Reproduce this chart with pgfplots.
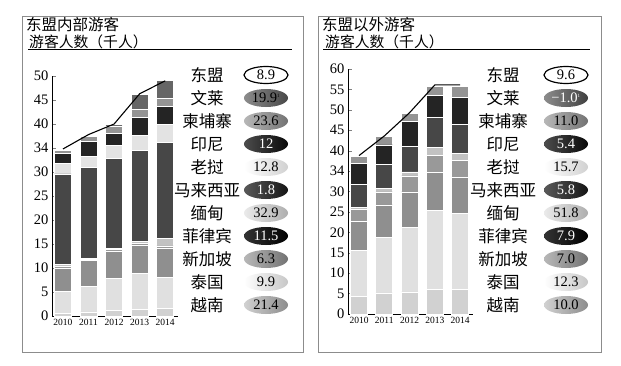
\documentclass[border=0pt]{standalone}
\usepackage{pgfplots}
\pgfplotsset{compat=1.18}
\usepackage{fontspec}
\setmainfont{Liberation Serif}
\newfontfamily\cjk{Noto Sans CJK SC}
\definecolor{cV}{gray}{0.82}
\definecolor{cT}{gray}{0.88}
\definecolor{cS}{gray}{0.56}
\definecolor{cP}{gray}{0.60}
\definecolor{cMy}{gray}{0.76}
\definecolor{cMa}{gray}{0.28}
\definecolor{cL}{gray}{0.89}
\definecolor{cI}{gray}{0.14}
\definecolor{cC}{gray}{0.58}
\definecolor{cB}{gray}{0.40}
\pgfplotsset{
  panel/.style={scale only axis, anchor=south west, ymin=0,
    axis x line*=bottom, axis y line*=left,
    axis line style={line width=0.9pt,-},
    xtick={0,...,4}, xticklabels={2010,2011,2012,2013,2014},
    xtick style={draw=none},
    tick align=inside, major tick length=4pt,
    /pgf/number format/assume math mode=true,
    xticklabel style={font=\fontsize{9.5}{10}\selectfont},
    yticklabel style={font=\fontsize{14.5}{15}\selectfont},
    ybar stacked, bar width=17pt,
    every axis plot/.append style={draw=white, line width=0.7pt},
  },
  lineax/.style={scale only axis, anchor=south west, ymin=0, axis lines=none, ticks=none},
}
\newcommand\badge[6]{%
  \shade[left color=#3, right color=#4] (#1,#2) ellipse (22 and 9);
  \node[text=#5, font=\fontsize{14.5}{15}\selectfont, inner sep=0] at (#1,#2) {#6};
}
\newcommand\cname[3]{\node[font=\cjk\fontsize{16.5}{17}\selectfont, inner sep=0] at (#1,#2) {#3};}
\begin{document}
\begin{tikzpicture}[x=1pt,y=1pt]
\path[use as bounding box, fill=white] (0,0) rectangle (621,365);
\draw[black!45, line width=1pt] (22,13) rectangle (303,348);
\draw[black!45, line width=1pt] (318,13) rectangle (601,348);
% titles
\node[anchor=west, inner sep=0] at (26,340) {\cjk\fontsize{15.5}{16}\selectfont 东盟内部游客};
\node[anchor=west, inner sep=0] at (29,323.3) {\cjk\fontsize{14.8}{15}\selectfont 游客人数（千人）};
\draw[line width=1pt] (28,315.5) -- (292,315.5);
\node[anchor=west, inner sep=0] at (322,340) {\cjk\fontsize{15.5}{16}\selectfont 东盟以外游客};
\node[anchor=west, inner sep=0] at (325,323.3) {\cjk\fontsize{14.8}{15}\selectfont 游客人数（千人）};
\draw[line width=1pt] (323,315.5) -- (590,315.5);

% left panel
\begin{axis}[panel, at={(52pt,49pt)}, width=126pt, height=240pt,
  xmin=-0.43, xmax=4.5, ymax=50,
  ytick={0,5,...,50}, yticklabels={0,5,10,15,20,25,30,34,40,45,50}]
\addplot[fill=cV] coordinates {(0,0.6)(1,0.85)(2,1.2)(3,1.3)(4,1.5)};
\addplot[fill=cT] coordinates {(0,4.5)(1,5.35)(2,6.6)(3,7.5)(4,6.6)};
\addplot[fill=cS] coordinates {(0,4.9)(1,5.4)(2,5.7)(3,6.0)(4,6.0)};
\addplot[fill=cP] coordinates {(0,0.4)(1,0.2)(2,0.3)(3,0.4)(4,0.5)};
\addplot[fill=cMy] coordinates {(0,0.4)(1,0.2)(2,0.3)(3,0.3)(4,1.6)};
\addplot[fill=cMa] coordinates {(0,18.8)(1,19.0)(2,18.7)(3,19.0)(4,19.9)};
\addplot[fill=cL] coordinates {(0,2.2)(1,2.3)(2,2.8)(3,3.2)(4,3.8)};
\addplot[fill=cI] coordinates {(0,2.1)(1,3.1)(2,2.5)(3,3.6)(4,3.7)};
\addplot[fill=cC] coordinates {(0,0.6)(1,1.1)(2,1.5)(3,1.8)(4,1.8)};
\addplot[fill=cB] coordinates {(0,0.2)(1,0.2)(2,0.3)(3,3.0)(4,3.6)};
\end{axis}
\begin{axis}[lineax, at={(52pt,49pt)}, width=126pt, height=240pt,
  xmin=-0.43, xmax=4.5, ymax=50]
\addplot[black, line width=1.1pt, mark=none] coordinates {(0,34.8)(1,37.8)(2,40.0)(3,46.3)(4,49.0)};
\end{axis}

% right panel
\begin{axis}[panel, at={(348pt,51pt)}, width=125pt, height=245pt,
  xmin=-0.436, xmax=4.51, ymax=60,
  ytick={0,5,...,60}, yticklabels={0,5,10,15,20,25,30,34,40,45,50,55,60}]
\addplot[fill=cV] coordinates {(0,4.4)(1,5.15)(2,5.4)(3,6.05)(4,6.05)};
\addplot[fill=cT] coordinates {(0,11.2)(1,13.55)(2,15.9)(3,19.25)(4,18.55)};
\addplot[fill=cS] coordinates {(0,7.0)(1,8.0)(2,8.6)(3,9.4)(4,8.8)};
\addplot[fill=cP] coordinates {(0,3.1)(1,3.2)(2,3.9)(3,4.2)(4,4.3)};
\addplot[fill=cMy] coordinates {(0,0.3)(1,0.8)(2,1.0)(3,1.9)(4,1.6)};
\addplot[fill=cMa] coordinates {(0,5.7)(1,5.9)(2,6.2)(3,7.3)(4,7.1)};
\addplot[fill=cI] coordinates {(0,5.2)(1,4.8)(2,6.1)(3,5.4)(4,6.6)};
\addplot[fill=cC] coordinates {(0,1.6)(1,2.0)(2,2.0)(3,2.3)(4,2.7)};
\end{axis}
\begin{axis}[lineax, at={(348pt,51pt)}, width=125pt, height=245pt,
  xmin=-0.436, xmax=4.51, ymax=60]
\addplot[black, line width=1.1pt, mark=none] coordinates {(0,38.8)(1,43.6)(2,49.3)(3,56.1)(4,56.1)};
\end{axis}

% left legend
\cname{207}{290}{东盟}
\cname{207}{267}{文莱}
\cname{207}{244}{柬埔寨}
\cname{207}{221}{印尼}
\cname{207}{198}{老挝}
\cname{207}{175}{马来西亚}
\cname{207}{152}{缅甸}
\cname{207}{129}{菲律宾}
\cname{207}{106}{新加坡}
\cname{207}{83}{泰国}
\cname{207}{60}{越南}
\draw[line width=1.2pt, fill=white] (266,290) ellipse (22 and 8.5);
\node[font=\fontsize{14.5}{15}\selectfont, inner sep=0] at (266,290) {8.9};
\badge{266}{267}{black!45}{black!72}{black}{19.9\textsuperscript{\tiny 1}}
\badge{266}{244}{black!28}{black!55}{black}{23.6}
\badge{266}{221}{black!70}{black!97}{white}{12}
\badge{266}{198}{white}{black!18}{black}{12.8}
\badge{266}{175}{black!65}{black!92}{white}{1.8}
\badge{266}{152}{black!8}{black!32}{black}{32.9}
\badge{266}{129}{black!80}{black}{white}{11.5}
\badge{266}{106}{black!28}{black!55}{black}{6.3}
\badge{266}{83}{white}{black!22}{black}{9.9}
\badge{266}{60}{black!18}{black!45}{black}{21.4}

% right legend
\cname{503}{290}{东盟}
\cname{503}{267}{文莱}
\cname{503}{244}{柬埔寨}
\cname{503}{221}{印尼}
\cname{503}{198}{老挝}
\cname{503}{175}{马来西亚}
\cname{503}{152}{缅甸}
\cname{503}{129}{菲律宾}
\cname{503}{106}{新加坡}
\cname{503}{83}{泰国}
\cname{503}{60}{越南}
\draw[line width=1.2pt, fill=white] (566,290) ellipse (22 and 8.5);
\node[font=\fontsize{14.5}{15}\selectfont, inner sep=0] at (566,290) {9.6};
\badge{566}{267}{black!45}{black!75}{white}{\textminus 1.0\textsuperscript{\tiny 1}}
\badge{566}{244}{black!28}{black!55}{black}{11.0}
\badge{566}{221}{black!70}{black!97}{white}{5.4}
\badge{566}{198}{white}{black!18}{black}{15.7}
\badge{566}{175}{black!65}{black!92}{white}{5.8}
\badge{566}{152}{black!8}{black!32}{black}{51.8}
\badge{566}{129}{black!80}{black}{white}{7.9}
\badge{566}{106}{black!28}{black!55}{black}{7.0}
\badge{566}{83}{white}{black!22}{black}{12.3}
\badge{566}{60}{black!18}{black!45}{black}{10.0}
\end{tikzpicture}
\end{document}
